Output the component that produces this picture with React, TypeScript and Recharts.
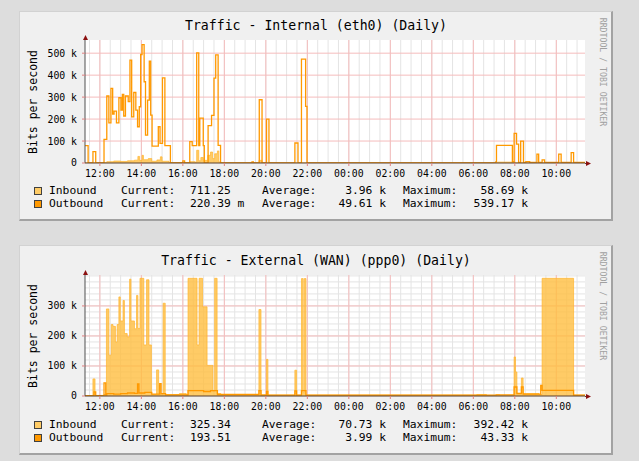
import React from 'react';
import { ComposedChart, Area, Line, XAxis, YAxis, CartesianGrid } from 'recharts';

const MONO = '"DejaVu Sans Mono", monospace';

// time axis in minutes, counted from 12:00 of the first day
const TIME_DOMAIN = [-43, 1403];
const TIME_TICKS = [0, 120, 240, 360, 480, 600, 720, 840, 960, 1080, 1200, 1320];
const TIME_LABELS = ['12:00', '14:00', '16:00', '18:00', '20:00', '22:00', '00:00', '02:00', '04:00', '06:00', '08:00', '10:00'];
const MINOR_TIMES = Array.from({ length: 48 }, (_, i) => -30 + i * 30);

// --- eth0 (values in kbit/s, step changes) ---
const ethOutTime = [-43, -34, -20, -12, 12, 20, 26, 32, 37, 41, 48, 55, 61, 65, 69, 74, 82, 87, 92, 98, 104, 109, 114, 118, 122, 128, 132, 138, 143, 147, 151, 169, 174, 181, 188, 204, 240, 245, 260, 267, 280, 286, 289, 299, 302, 313, 323, 330, 335, 342, 349, 440, 444, 461, 469, 482, 489, 564, 573, 583, 595, 599, 1145, 1147, 1193, 1198, 1205, 1211, 1217, 1225, 1232, 1243, 1264, 1269, 1279, 1286, 1327, 1334, 1363, 1370, 1403];
const ethOutKbps = [79, 0, 52, 0, 108, 305, 183, 340, 223, 236, 183, 297, 241, 312, 214, 305, 279, 468, 210, 321, 241, 165, 256, 494, 539, 370, 127, 286, 464, 218, 77, 165, 89, 388, 79, 0, 10, 0, 97, 79, 501, 79, 204, 79, 0, 170, 217, 386, 492, 80, 0, 5, 0, 288, 0, 200, 0, 91, 0, 473, 258, 0, 5, 80, 5, 135, 86, 3, 100, 3, 6, 3, 40, 3, 14, 3, 40, 3, 47, 3, 3];
const ethInTime = [-43, 12, 20, 40, 60, 80, 100, 110, 115, 122, 126, 140, 150, 165, 175, 180, 200, 260, 275, 280, 286, 292, 299, 312, 320, 326, 332, 340, 344, 350, 460, 469, 1150, 1195, 1200, 1403];
const ethInKbps = [1, 2, 6, 9, 7, 10, 13, 30, 12, 35, 15, 20, 8, 14, 28, 8, 2, 6, 4, 58, 10, 25, 12, 35, 50, 20, 42, 55, 5, 1, 12, 1, 4, 6, 1, 1];

// --- ppp0 ---
const wanInTime = [-43, -20, -14, 12, 19, 26, 33, 38, 45, 50, 55, 59, 67, 71, 79, 86, 90, 100, 106, 110, 116, 127, 135, 142, 149, 164, 170, 183, 189, 230, 250, 255, 281, 287, 297, 310, 327, 332, 339, 350, 460, 466, 482, 486, 564, 569, 583, 588, 591, 596, 1090, 1118, 1146, 1156, 1198, 1202, 1206, 1219, 1224, 1234, 1270, 1279, 1370, 1403];
const wanInKbps = [0, 57, 2, 5, 290, 136, 238, 232, 180, 238, 330, 250, 318, 208, 197, 389, 250, 224, 335, 225, 392, 170, 387, 170, 5, 87, 5, 309, 5, 8, 3, 392, 170, 392, 297, 102, 15, 392, 8, 2, 288, 4, 122, 3, 86, 3, 391, 12, 391, 3, 5, 2, 4, 2, 130, 80, 10, 60, 8, 8, 5, 392, 3, 3];
const wanOutTime = [-43, -17, -12, 12, 17, 20, 40, 60, 80, 100, 109, 113, 130, 150, 173, 177, 190, 255, 300, 320, 340, 460, 466, 482, 486, 564, 569, 583, 596, 1146, 1198, 1206, 1219, 1224, 1275, 1279, 1370, 1403];
const wanOutKbps = [1, 14, 1, 44, 3, 8, 6, 8, 10, 9, 40, 10, 12, 6, 41, 8, 4, 18, 15, 18, 5, 18, 3, 15, 3, 17, 3, 18, 3, 4, 30, 8, 30, 6, 35, 19, 3, 3];

const ethTicks = [0, 100, 200, 300, 400, 500];
const wanTicks = [0, 100, 200, 300];
const wanMinor = Array.from({ length: 21 }, (_, i) => i * 20);

const ethCurrent = ['711.25', '220.39 m'];
const ethAverage = ['3.96 k', '49.61 k'];
const ethMaximum = ['58.69 k', '539.17 k'];
const wanCurrent = ['325.34', '193.51'];
const wanAverage = ['70.73 k', '3.99 k'];
const wanMaximum = ['392.42 k', '43.33 k'];

const SERIES_NAMES = ['Inbound', 'Outbound'];
const SERIES_COLORS = ['#FFCC66', '#FF9900'];

const rows = (t: number[], v: number[]) => t.map((x, i) => ({ t: x, v: v[i] }));

const fmtK = (v: number) => (v === 0 ? '0' : `${v} k`);

function Panel(props: any) {
  const { top, plotTop, plotBottom, title, yMax, yTicks, minorY, inbound, outbound, current, average, maximum } = props;
  const H = 215;
  const mTop = plotTop - top;
  const mBottom = H - (plotBottom - top) - 30;
  const txt = (x: number, y: number, s: string, size: number, extra: any = {}) => (
    <div
      style={{
        position: 'absolute', left: x, top: y - 8, height: 16, lineHeight: '16px',
        fontFamily: MONO, fontSize: size, whiteSpace: 'pre', color: '#000', ...extra,
      }}
    >
      {s}
    </div>
  );
  return (
    <>
      <div
        style={{
          position: 'absolute', left: 19, top, width: 594, height: 210, boxSizing: 'border-box',
          background: '#f0f0f0', borderTop: '1px solid #d2d2d2', borderLeft: '1px solid #d2d2d2',
          borderRight: '2px solid #a2a2a2', borderBottom: '2px solid #a2a2a2',
        }}
      />
      <div
        style={{
          position: 'absolute', left: 19, width: 594, top: top + plotTop - top - 22, height: 16,
          lineHeight: '16px', textAlign: 'center', fontFamily: MONO, fontSize: 13.2, color: '#000',
        }}
      >
        {title}
      </div>
      <div
        style={{
          position: 'absolute', left: 33 - 60, top: top + 91 - 8, width: 120, height: 16, lineHeight: '16px',
          textAlign: 'center', fontFamily: MONO, fontSize: 11.5, transform: 'rotate(-90deg)', color: '#000',
        }}
      >
        Bits per second
      </div>
      <div
        style={{
          position: 'absolute', left: 603 - 60, top: top + 61 - 6, width: 120, height: 12, lineHeight: '12px',
          textAlign: 'center', fontFamily: MONO, fontSize: 8.2, transform: 'rotate(90deg)', color: '#a0a0a0',
        }}
      >
        RRDTOOL / TOBI OETIKER
      </div>
      <div style={{ position: 'absolute', left: 0, top }}>
        <ComposedChart width={639} height={H} margin={{ top: mTop, right: 54, left: 0, bottom: mBottom }}>
          <CartesianGrid
            fill="#ffffff"
            stroke="#e4e4e4"
            verticalValues={MINOR_TIMES}
            horizontal={!!minorY}
            horizontalValues={minorY || []}
          />
          <CartesianGrid
            stroke="#f5bcbc"
            verticalValues={TIME_TICKS}
            horizontalValues={yTicks.slice(1)}
          />
          <XAxis
            type="number"
            dataKey="t"
            domain={TIME_DOMAIN}
            ticks={TIME_TICKS}
            tickFormatter={(v: number) => TIME_LABELS[TIME_TICKS.indexOf(v)]}
            allowDataOverflow
            height={30}
            tickSize={3}
            tickMargin={4}
            tickLine={{ stroke: '#e08080' }}
            axisLine={{ stroke: '#5a4030' }}
            tick={{ fontFamily: MONO, fontSize: 9.8, fill: '#000' }}
            interval={0}
          />
          <YAxis
            type="number"
            domain={[0, yMax]}
            ticks={yTicks}
            tickFormatter={fmtK}
            allowDataOverflow
            width={85}
            tickSize={3}
            tickMargin={5}
            tickLine={{ stroke: '#e08080' }}
            axisLine={{ stroke: '#505050' }}
            tick={{ fontFamily: MONO, fontSize: 9.8, fill: '#000' }}
            interval={0}
          />
          <Area
            data={inbound}
            dataKey="v"
            type="stepAfter"
            fill="#FFBE40"
            fillOpacity={0.8}
            stroke="#FFB52E"
            strokeWidth={0.7}
            isAnimationActive={false}
            dot={false}
            activeDot={false}
          />
          <Line
            data={outbound}
            dataKey="v"
            type="stepAfter"
            stroke="#FF9900"
            strokeWidth={1.3}
            isAnimationActive={false}
            dot={false}
            activeDot={false}
          />
        </ComposedChart>
      </div>
      <svg style={{ position: 'absolute', left: 0, top: 0, overflow: 'visible' }} width={639} height={461}>
        <line x1={585} x2={588} y1={plotBottom + 0.5} y2={plotBottom + 0.5} stroke="#5a4030" />
        <polygon points={`${591},${plotBottom + 0.5} ${586},${plotBottom - 2} ${586},${plotBottom + 3}`} fill="#8b1010" />
        <line x1={85.5} x2={85.5} y1={plotTop} y2={plotTop - 3} stroke="#505050" />
        <polygon points={`${85.5},${plotTop - 5} ${83},${plotTop} ${88},${plotTop}`} fill="#8b1010" />
      </svg>
      {SERIES_NAMES.map((name, i) => {
        const y = top + 180 + i * 13.3;
        return (
          <React.Fragment key={name}>
            <div
              style={{
                position: 'absolute', left: 34, top: y - 4, width: 8, height: 8, boxSizing: 'border-box',
                background: SERIES_COLORS[i], border: '1px solid #404040',
              }}
            />
            {txt(49, y, name, 11.3)}
            {txt(121, y, 'Current:', 11.3)}
            {txt(190, y, current[i], 11.3)}
            {txt(262, y, 'Average:', 11.3)}
            {txt(286, y, average[i], 11.3, { width: 100, textAlign: 'right' })}
            {txt(403, y, 'Maximum:', 11.3)}
            {txt(428, y, maximum[i], 11.3, { width: 100, textAlign: 'right' })}
          </React.Fragment>
        );
      })}
    </>
  );
}

export default function App() {
  return (
    <div style={{ position: 'absolute', left: 0, top: 0, width: 639, height: 461, background: '#dddddd', overflow: 'hidden' }}>
      <Panel
        top={11}
        plotTop={40}
        plotBottom={163}
        title="Traffic - Internal (eth0) (Daily)"
        yMax={560}
        yTicks={ethTicks}
        minorY={null}
        inbound={rows(ethInTime, ethInKbps)}
        outbound={rows(ethOutTime, ethOutKbps)}
        current={ethCurrent}
        average={ethAverage}
        maximum={ethMaximum}
      />
      <Panel
        top={245}
        plotTop={275}
        plotBottom={396}
        title="Traffic - External (WAN) (ppp0) (Daily)"
        yMax={403}
        yTicks={wanTicks}
        minorY={wanMinor}
        inbound={rows(wanInTime, wanInKbps)}
        outbound={rows(wanOutTime, wanOutKbps)}
        current={wanCurrent}
        average={wanAverage}
        maximum={wanMaximum}
      />
    </div>
  );
}
